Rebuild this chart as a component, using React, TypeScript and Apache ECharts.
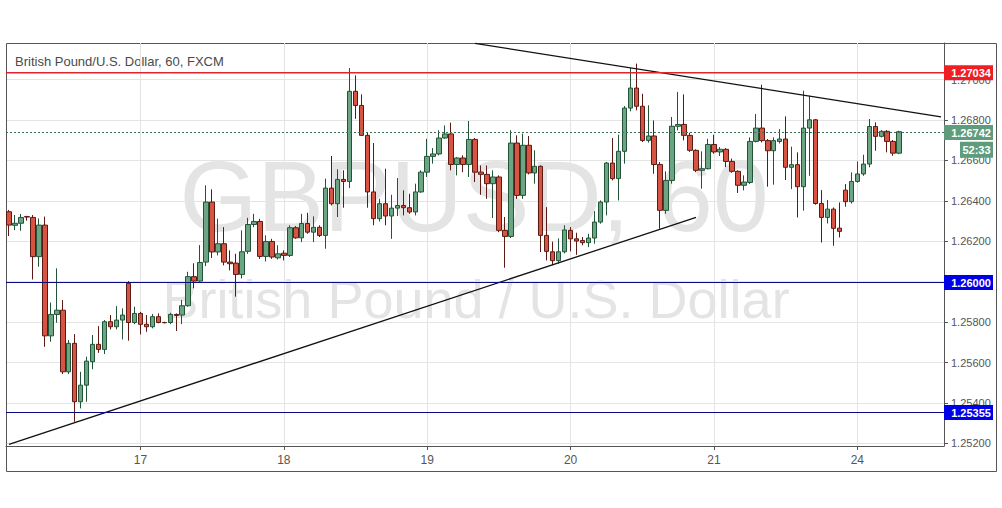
import React, { useEffect, useRef } from "react";
import * as echarts from "echarts";

const titleText = "British Pound/U.S. Dollar, 60, FXCM";
const watermarkSymbol = "GBPUSD, 60";
const watermarkName = "British Pound / U.S. Dollar";

const dayLabels = ["17", "18", "19", "20", "21", "24"];
const dayStartIndex = [22, 46, 70, 94, 118, 142];
const slotCount = 157;

const yMin = 1.25187;
const yMax = 1.27181;

const resistance = 1.27034;
const supports = [1.26, 1.25355];
const currentPrice = 1.26742;
const countdown = "52:33";

// trend lines: [category index, price]
const descendingLine = [
  [78, 1.27179],
  [156, 1.26816],
];
const ascendingLine = [
  [0, 1.25195],
  [115, 1.26318],
];

// hourly candles: [open, close, low, high]
const ohlc = [
  [1.26346, 1.2628, 1.26226, 1.26355],
  [1.26279, 1.26289, 1.26255, 1.2633],
  [1.26289, 1.26318, 1.26252, 1.26335],
  [1.26322, 1.2632, 1.26302, 1.26326],
  [1.26318, 1.26124, 1.26011, 1.2633],
  [1.26124, 1.2628, 1.26074, 1.26313],
  [1.2628, 1.25732, 1.25678, 1.26322],
  [1.25732, 1.25838, 1.25703, 1.25897],
  [1.25838, 1.25859, 1.25797, 1.26066],
  [1.25859, 1.25554, 1.25543, 1.25909],
  [1.25554, 1.25695, 1.25543, 1.25711],
  [1.25695, 1.25406, 1.25307, 1.25741],
  [1.25406, 1.25488, 1.25373, 1.25554],
  [1.25488, 1.25607, 1.25406, 1.25629],
  [1.25604, 1.2569, 1.25567, 1.25736],
  [1.2569, 1.25665, 1.25648, 1.2578],
  [1.25665, 1.25802, 1.25642, 1.2581],
  [1.25802, 1.25777, 1.25764, 1.25835],
  [1.25777, 1.2581, 1.25764, 1.25879],
  [1.2581, 1.25835, 1.25714, 1.25868],
  [1.25992, 1.25798, 1.25708, 1.26003],
  [1.25798, 1.25843, 1.2579, 1.25876],
  [1.25843, 1.25789, 1.25739, 1.25851],
  [1.25789, 1.25777, 1.25752, 1.25835],
  [1.25777, 1.25827, 1.25769, 1.2584],
  [1.25827, 1.25798, 1.25794, 1.25843],
  [1.25798, 1.25797, 1.25794, 1.25802],
  [1.25798, 1.25838, 1.2579, 1.25846],
  [1.25838, 1.25833, 1.25756, 1.25843],
  [1.25835, 1.25881, 1.2579, 1.25909],
  [1.25881, 1.26025, 1.25876, 1.26049],
  [1.26025, 1.26003, 1.25967, 1.26091],
  [1.26003, 1.26095, 1.25998, 1.26181],
  [1.26097, 1.26394, 1.26077, 1.26477],
  [1.26394, 1.26147, 1.26117, 1.26457],
  [1.26147, 1.26188, 1.2613, 1.26312],
  [1.26188, 1.26097, 1.26081, 1.2627],
  [1.26097, 1.26089, 1.26056, 1.26155],
  [1.26092, 1.26036, 1.25926, 1.26138],
  [1.26036, 1.26148, 1.26016, 1.26254],
  [1.2615, 1.26283, 1.26138, 1.26316],
  [1.26283, 1.26298, 1.2627, 1.26336],
  [1.26298, 1.26125, 1.26113, 1.26311],
  [1.26125, 1.26199, 1.261, 1.26229],
  [1.26199, 1.26122, 1.26113, 1.26212],
  [1.26118, 1.26138, 1.2611, 1.2618],
  [1.26141, 1.2613, 1.26105, 1.26155],
  [1.2613, 1.26267, 1.26122, 1.26279],
  [1.26267, 1.26217, 1.26212, 1.26275],
  [1.26217, 1.26288, 1.26196, 1.26336],
  [1.26288, 1.26245, 1.26237, 1.26341],
  [1.26245, 1.26269, 1.26196, 1.26323],
  [1.26269, 1.26229, 1.26221, 1.26279],
  [1.26229, 1.26463, 1.26163, 1.2651],
  [1.26463, 1.26386, 1.26377, 1.26622],
  [1.26386, 1.26506, 1.2632, 1.26556],
  [1.26506, 1.26496, 1.26366, 1.26551],
  [1.26496, 1.26942, 1.26463, 1.27057],
  [1.26942, 1.26872, 1.26806, 1.27021],
  [1.26872, 1.26724, 1.26721, 1.26927],
  [1.26724, 1.26444, 1.26366, 1.26741],
  [1.26444, 1.26312, 1.26279, 1.26686],
  [1.26312, 1.26386, 1.26298, 1.2641],
  [1.26386, 1.26325, 1.26279, 1.26559],
  [1.26325, 1.26364, 1.26212, 1.2643],
  [1.26364, 1.26377, 1.26325, 1.26513],
  [1.26377, 1.26366, 1.26328, 1.26452],
  [1.26366, 1.26345, 1.26336, 1.26435],
  [1.26345, 1.26444, 1.26328, 1.26485],
  [1.26444, 1.26542, 1.2644, 1.26551],
  [1.26542, 1.2662, 1.26518, 1.26707],
  [1.2662, 1.26632, 1.26584, 1.26661],
  [1.26632, 1.26711, 1.26625, 1.26749],
  [1.26711, 1.26731, 1.26707, 1.26773],
  [1.26731, 1.2658, 1.26551, 1.26787],
  [1.2658, 1.26612, 1.26526, 1.26617],
  [1.26612, 1.2658, 1.26542, 1.26625],
  [1.2658, 1.26704, 1.26518, 1.26795],
  [1.26704, 1.26542, 1.26493, 1.26711],
  [1.26542, 1.26531, 1.2643, 1.26575],
  [1.26531, 1.26485, 1.2641, 1.26575],
  [1.26485, 1.26518, 1.26315, 1.26551],
  [1.26518, 1.26254, 1.26245, 1.26526],
  [1.26254, 1.26224, 1.26069, 1.2632],
  [1.26224, 1.26686, 1.26216, 1.26749],
  [1.26686, 1.26427, 1.2641, 1.26724],
  [1.26427, 1.26675, 1.2641, 1.26732],
  [1.26675, 1.26538, 1.26531, 1.26721],
  [1.26538, 1.26571, 1.26485, 1.2665],
  [1.26571, 1.26229, 1.26147, 1.26575],
  [1.26229, 1.2615, 1.26105, 1.26369],
  [1.26148, 1.26104, 1.26082, 1.26198],
  [1.26104, 1.26148, 1.2609, 1.26214],
  [1.26148, 1.26256, 1.2614, 1.26279],
  [1.26254, 1.26212, 1.2615, 1.2627],
  [1.26212, 1.26201, 1.26133, 1.26242],
  [1.26204, 1.26193, 1.2618, 1.26221],
  [1.26193, 1.26216, 1.26171, 1.26237],
  [1.26216, 1.26295, 1.26188, 1.26349],
  [1.26295, 1.26394, 1.26287, 1.26402],
  [1.26394, 1.26587, 1.26328, 1.26592],
  [1.26587, 1.2651, 1.26501, 1.26711],
  [1.2651, 1.26645, 1.26402, 1.26727],
  [1.26645, 1.26859, 1.26584, 1.26869],
  [1.26859, 1.26958, 1.26843, 1.27057],
  [1.26958, 1.26868, 1.26848, 1.27079],
  [1.26868, 1.26699, 1.26691, 1.2693],
  [1.26699, 1.26721, 1.26688, 1.26873],
  [1.26721, 1.2658, 1.26534, 1.26798],
  [1.2658, 1.26353, 1.26262, 1.26592],
  [1.26353, 1.26501, 1.26336, 1.26546],
  [1.26501, 1.26769, 1.26485, 1.26815],
  [1.26769, 1.26778, 1.26749, 1.26939],
  [1.26778, 1.26724, 1.26699, 1.26927],
  [1.26724, 1.2665, 1.26642, 1.26737],
  [1.2665, 1.26551, 1.26542, 1.26655],
  [1.26551, 1.26559, 1.2646, 1.26645],
  [1.26559, 1.26679, 1.26556, 1.26707],
  [1.26679, 1.26642, 1.26633, 1.26727],
  [1.26642, 1.26655, 1.26622, 1.26666],
  [1.26655, 1.26595, 1.26567, 1.26661],
  [1.26595, 1.26546, 1.26539, 1.26609],
  [1.26546, 1.26477, 1.26439, 1.26551],
  [1.26477, 1.26493, 1.26452, 1.26526],
  [1.26491, 1.26694, 1.26483, 1.26714],
  [1.26694, 1.2676, 1.26689, 1.2683],
  [1.2676, 1.26698, 1.26689, 1.26975],
  [1.26698, 1.26648, 1.2647, 1.26706],
  [1.26648, 1.26698, 1.2648, 1.26714],
  [1.26694, 1.26706, 1.26684, 1.26755],
  [1.26706, 1.26566, 1.26503, 1.26818],
  [1.26566, 1.26579, 1.26458, 1.26668],
  [1.26579, 1.2647, 1.26318, 1.2664],
  [1.2647, 1.2676, 1.26351, 1.26945],
  [1.2676, 1.26801, 1.26524, 1.2692],
  [1.26801, 1.26387, 1.26381, 1.26805],
  [1.26387, 1.26318, 1.26194, 1.26453],
  [1.26318, 1.26359, 1.26288, 1.26404],
  [1.26359, 1.26264, 1.26178, 1.26367],
  [1.26265, 1.26249, 1.26219, 1.26392],
  [1.26453, 1.26396, 1.26371, 1.26483],
  [1.26396, 1.26496, 1.26387, 1.26541],
  [1.26496, 1.26533, 1.2649, 1.26595],
  [1.26533, 1.26582, 1.26524, 1.26628],
  [1.26582, 1.26768, 1.26566, 1.26805],
  [1.26768, 1.26719, 1.26648, 1.26788],
  [1.26719, 1.26744, 1.26714, 1.2675],
  [1.26744, 1.26694, 1.2664, 1.2675],
  [1.26694, 1.26636, 1.26623, 1.26701],
  [1.26636, 1.26742, 1.26631, 1.26747],
];

const FONT = "'Liberation Sans', Arial, sans-serif";

// layout constants
const GRID_LEFT = 6;
const GRID_RIGHT_X = 944;

export default function App() {
  const ref = useRef<HTMLDivElement>(null);

  useEffect(() => {
    if (!ref.current) return;
    const chart = echarts.init(ref.current, undefined, { renderer: "svg" });

    const categories = Array.from({ length: slotCount }, (_, i) => String(i));
    const dayLabelAt: Record<number, string> = {};
    dayStartIndex.forEach((idx, k) => (dayLabelAt[idx] = dayLabels[k]));
    const isDay = (i: number) => dayLabelAt[i] !== undefined;

    const option: any = {
      animation: false,
      backgroundColor: "#ffffff",
      grid: { left: GRID_LEFT, right: 1002 - GRID_RIGHT_X, top: 43, bottom: 62 },
      xAxis: {
        type: "category",
        data: categories,
        boundaryGap: true,
        axisLine: { show: true, lineStyle: { color: "#555555", width: 1 } },
        axisTick: {
          show: true,
          alignWithLabel: true,
          interval: (i: number) => isDay(i),
          length: 4,
          lineStyle: { color: "#555555" },
        },
        axisLabel: {
          interval: (i: number) => isDay(i),
          formatter: (_v: string, i: number) => dayLabelAt[i] ?? "",
          color: "#555555",
          fontSize: 12,
          fontFamily: FONT,
          margin: 8,
        },
        splitLine: { show: false },
      },
      yAxis: {
        type: "value",
        position: "right",
        min: yMin,
        max: yMax,
        splitNumber: 10,
        scale: true,
        axisLine: { show: true, lineStyle: { color: "#555555", width: 1 } },
        axisTick: { show: true, length: 4, lineStyle: { color: "#555555" } },
        axisLabel: {
          showMinLabel: false,
          showMaxLabel: false,
          color: "#555555",
          fontSize: 11,
          fontFamily: FONT,
          margin: 7,
          formatter: (v: number) => {
            const k = v / 0.002;
            return Math.abs(k - Math.round(k)) < 1e-6 ? v.toFixed(5) : "";
          },
        },
        splitLine: { show: true, lineStyle: { color: "#e4e4e4", width: 1 } },
      },
      series: [
        {
          name: "dayGrid",
          type: "line",
          data: [],
          z: 1,
          silent: true,
          markLine: {
            z: 1,
            silent: true,
            symbol: ["none", "none"],
            label: { show: false },
            lineStyle: { color: "#e4e4e4", width: 1, type: "solid" },
            data: dayStartIndex.map((idx) => ({ xAxis: idx })),
          },
        },
        {
          name: "GBPUSD",
          type: "candlestick",
          data: ohlc,
          barWidth: 5,
          z: 3,
          itemStyle: {
            color: "#6ba583",
            color0: "#d75442",
            borderColor: "#225437",
            borderColor0: "#5b1a13",
            borderWidth: 1,
          },
        },
        {
          name: "trendlines",
          type: "line",
          data: [],
          z: 4,
          silent: true,
          color: "#111111",
          markLine: {
            z: 5,
            silent: true,
            symbol: ["none", "none"],
            label: { show: false },
            lineStyle: { color: "#111111", width: 1.3, type: "solid" },
            emphasis: { disabled: true },
            data: [
              [{ coord: descendingLine[0] }, { coord: descendingLine[1] }],
              [{ coord: ascendingLine[0] }, { coord: ascendingLine[1] }],
            ],
          },
        },
      ],
    };

    chart.setOption(option);

    const toY = (v: number) => chart.convertToPixel({ yAxisIndex: 0 }, v) as number;

    const levels = [
      { value: resistance, line: "#e0242d", bg: "#f01d22", dash: null as any, width: 1.5, snap: false },
      { value: supports[0], line: "#0a0a85", bg: "#0000e6", dash: null as any, width: 1.2, snap: true },
      { value: supports[1], line: "#0a0a85", bg: "#0000e6", dash: null as any, width: 1.2, snap: true },
      { value: currentPrice, line: "#3d6e55", bg: "#5f9c7c", dash: [2, 2], width: 1, snap: true },
    ];

    const levelElements: any[] = [];
    levels.forEach((lv, k) => {
      const raw = toY(lv.value);
      const y = lv.snap ? Math.round(raw) + 0.5 : raw;
      levelElements.push({
        type: "line",
        id: "lvline" + k,
        z: 20,
        silent: true,
        shape: { x1: GRID_LEFT, y1: y, x2: GRID_RIGHT_X, y2: y },
        style: { stroke: lv.line, lineWidth: lv.width, lineDash: lv.dash || undefined },
      });
      levelElements.push({
        type: "rect",
        id: "lvbox" + k,
        z: 21,
        silent: true,
        shape: { x: GRID_RIGHT_X, y: y - 7.5, width: 49, height: 15 },
        style: { fill: lv.bg },
      });
      levelElements.push({
        type: "text",
        id: "lvtext" + k,
        z: 22,
        silent: true,
        x: GRID_RIGHT_X + 27,
        y: y,
        style: {
          text: lv.value.toFixed(5),
          fill: "#ffffff",
          fontSize: 11,
          fontWeight: "bold",
          fontFamily: FONT,
          align: "center",
          verticalAlign: "middle",
          textAlign: "center",
          textVerticalAlign: "middle",
        },
      });
    });

    const yCur = toY(currentPrice);

    chart.setOption({
      graphic: {
        elements: [
          {
            type: "text",
            id: "wm1",
            z: -1,
            silent: true,
            x: 474,
            y: 196,
            style: {
              text: watermarkSymbol,
              fill: "#e4e4e4",
              fontSize: 100,
              fontFamily: FONT,
              align: "center",
              verticalAlign: "middle",
              textAlign: "center",
              textVerticalAlign: "middle",
            },
          },
          {
            type: "text",
            id: "wm2",
            z: -1,
            silent: true,
            x: 476,
            y: 299,
            style: {
              text: watermarkName,
              fill: "#e4e4e4",
              fontSize: 54,
              fontFamily: FONT,
              align: "center",
              verticalAlign: "middle",
              textAlign: "center",
              textVerticalAlign: "middle",
            },
          },
          {
            type: "text",
            id: "title",
            x: 15,
            y: 61,
            style: {
              text: titleText,
              fill: "#4a4a4a",
              fontSize: 13,
              fontFamily: FONT,
              align: "left",
              verticalAlign: "middle",
              textAlign: "left",
              textVerticalAlign: "middle",
            },
          },
          {
            type: "rect",
            id: "frame",
            silent: true,
            shape: { x: 6.5, y: 43.5, width: 990, height: 428 },
            style: { fill: "none", stroke: "#555555", lineWidth: 1 },
          },
          ...levelElements,
          {
            type: "rect",
            id: "cdbox",
            z: 21,
            shape: { x: 960, y: yCur + 10, width: 33, height: 16 },
            style: { fill: "#5f9c7c" },
          },
          {
            type: "text",
            id: "cdtext",
            z: 22,
            x: 976.5,
            y: yCur + 18,
            style: {
              text: countdown,
              fill: "#ffffff",
              fontSize: 11,
              fontWeight: "bold",
              fontFamily: FONT,
              align: "center",
              verticalAlign: "middle",
              textAlign: "center",
              textVerticalAlign: "middle",
            },
          },
        ],
      },
    });

    return () => chart.dispose();
  }, []);

  return (
    <div
      ref={ref}
      style={{ position: "fixed", left: 0, top: 0, width: 1002, height: 508, background: "#ffffff" }}
    />
  );
}
